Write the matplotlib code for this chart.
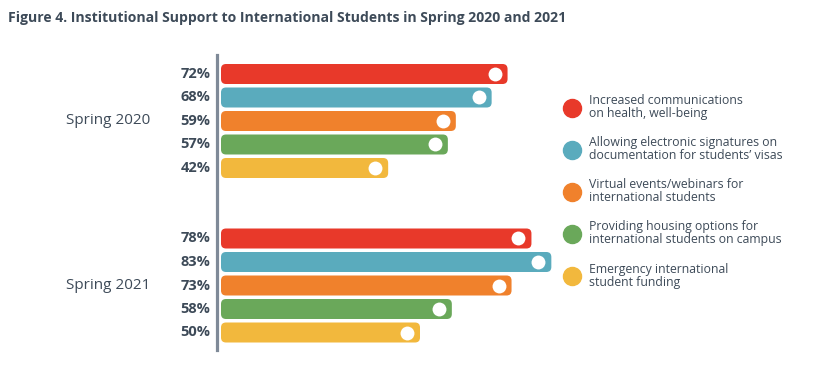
import matplotlib
matplotlib.use('Agg')
import matplotlib.pyplot as plt
from matplotlib.patches import FancyBboxPatch
from matplotlib.lines import Line2D

plt.rcParams['font.family'] = ['Open Sans', 'DejaVu Sans']

groups = ['Spring 2020', 'Spring 2021']
categories = ['Increased communications\non health, well-being',
              'Allowing electronic signatures on\ndocumentation for students\u2019 visas',
              'Virtual events/webinars for\ninternational students',
              'Providing housing options for\ninternational students on campus',
              'Emergency international\nstudent funding']
values_2020 = [72, 68, 59, 57, 42]
values_2021 = [78, 83, 73, 58, 50]
colors = ['#e8392a', '#5aabbd', '#f0812c', '#6aa85a', '#f2b83d']
text_color = '#3d4a58'

W, H = 824, 367
fig = plt.figure(figsize=(W / 100, H / 100), dpi=100)

# axes in pixel layout: x=0 at px 221, 3.98 px per %, rows 23.5 px apart
px_per_x = 3.98
px_per_row = 23.5
ax_left, ax_right, ax_top, ax_bot = 217, 560, 55, 350
ax = fig.add_axes([ax_left / W, 1 - ax_bot / H, (ax_right - ax_left) / W, (ax_bot - ax_top) / H])
x0 = -(221 - ax_left) / px_per_x
ax.set_xlim(x0, x0 + (ax_right - ax_left) / px_per_x)
ax.set_ylim((ax_bot - 74) / px_per_row, (ax_top - 74) / px_per_row)

bar_h = 20 / px_per_row
r = 5 / px_per_x
aspect = px_per_x / px_per_row

for g, (name, vals) in enumerate(zip(groups, [values_2020, values_2021])):
    base = g * 7
    for i, v in enumerate(vals):
        y = base + i
        ax.add_patch(FancyBboxPatch((0, y - bar_h / 2), v, bar_h,
                                    boxstyle='round,pad=0,rounding_size=%f' % r,
                                    mutation_aspect=aspect, fc=colors[i], ec='none'))
        ax.scatter([v - 13 / px_per_x], [y], s=100, color='white', zorder=3, linewidths=0)
        ax.annotate('%d%%' % v, (0, y), xytext=(-7.5, 0), textcoords='offset points',
                    ha='right', va='center', fontsize=10.5, fontweight='bold', color=text_color)
    ax.annotate(name, (0, base + 2), xytext=(-51, 0), textcoords='offset points',
                ha='right', va='center', fontsize=11, color=text_color)

for s in ['top', 'right', 'bottom']:
    ax.spines[s].set_visible(False)
ax.spines['left'].set_color('#7f8a98')
ax.spines['left'].set_linewidth(2.3)
ax.set_xticks([])
ax.set_yticks([])
ax.patch.set_alpha(0)

handles = [Line2D([], [], marker='o', ls='none', markersize=13, color=c) for c in colors]
leg = fig.legend(handles, categories, loc='upper left', bbox_to_anchor=(564.5 / W, 1 - 94 / H),
                 frameon=False, fontsize=8.8, labelspacing=1.32, handletextpad=0.8,
                 handlelength=1.22, borderaxespad=0, borderpad=0)
for t in leg.get_texts():
    t.set_color(text_color)
    t.set_linespacing(1.0)

fig.text(8 / W, 1 - 18 / H, 'Figure 4. Institutional Support to International Students in Spring 2020 and 2021',
         fontsize=10.1, fontweight='bold', color=text_color, va='center', ha='left')

fig.savefig('out.png', dpi=100, facecolor='white')
